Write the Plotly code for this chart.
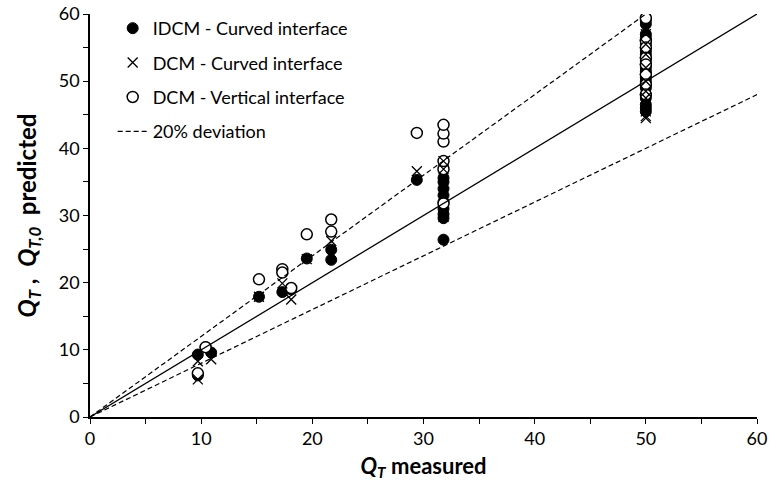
import plotly.graph_objects as go

# Measured vs predicted Q_T for the three interface models
idcm_x = [9.7, 9.7, 10.4, 10.9, 15.2, 17.3, 18.1, 19.5, 21.7, 21.7, 29.4,
          31.8, 31.8, 31.8, 31.8, 31.8, 31.8, 31.8, 31.8, 31.8,
          50, 50, 50, 50, 50, 50, 50, 50, 50, 50, 50, 50, 50, 50, 50, 50,
          50, 50, 50, 50, 50, 50, 50, 50]
idcm_y = [9.3, 6.2, 10.4, 9.6, 17.9, 18.6, 19.0, 23.6, 24.9, 23.4, 35.3,
          26.4, 29.6, 30.2, 31.0, 32.0, 33.0, 34.0, 35.0, 35.6,
          59.0, 58.5, 57.0, 56.5, 56.0, 55.5, 55.0, 54.5, 54.0, 53.5, 53.0,
          52.5, 52.0, 51.5, 51.0, 50.5, 50.0, 49.5, 49.0, 48.0, 47.5, 46.5,
          46.0, 45.5]

dcm_curved_x = [9.7, 9.7, 10.9, 15.2, 17.3, 18.1, 19.5, 21.7, 29.4,
                31.8, 31.8, 31.8, 31.8,
                50, 50, 50, 50, 50, 50, 50, 50, 50, 50, 50]
dcm_curved_y = [5.6, 8.3, 8.6, 17.9, 19.9, 17.5, 23.5, 26.2, 36.6,
                29.8, 30.5, 36.9, 38.1,
                57.0, 55.5, 54.0, 52.0, 50.0, 48.5, 47.5, 46.5, 45.5, 44.8, 44.5]

dcm_vertical_x = [9.7, 10.4, 15.2, 17.3, 17.3, 18.1, 19.5, 21.7, 21.7, 29.4,
                  31.8, 31.8, 31.8, 31.8, 31.8, 31.8,
                  50, 50, 50, 50, 50, 50, 50, 50]
dcm_vertical_y = [6.5, 10.4, 20.5, 22.0, 21.5, 19.2, 27.2, 29.4, 27.6, 42.3,
                  31.8, 36.9, 38.1, 41.0, 42.2, 43.5,
                  59.4, 56.0, 55.0, 53.5, 52.5, 51.0, 49.5, 48.0]

# Reference lines: 1:1 and +/-20 % deviation
line_x = [0, 60]
perfect_factor = 1.0
deviation_factors = [1.2, 0.8]

FONT = "Lato"
BLACK = "#000000"

fig = go.Figure()

fig.add_trace(go.Scatter(
    x=idcm_x, y=idcm_y, mode="markers", name="IDCM - Curved interface",
    legendgroup="a", legendrank=1,
    marker=dict(symbol="circle", size=11, color=BLACK,
                line=dict(color=BLACK, width=1)),
))
fig.add_trace(go.Scatter(
    x=dcm_vertical_x, y=dcm_vertical_y, mode="markers",
    name="DCM - Vertical interface", legendgroup="c", legendrank=3,
    marker=dict(symbol="circle", size=11, color="white",
                line=dict(color=BLACK, width=1.5)),
))

# 1:1 line
fig.add_trace(go.Scatter(
    x=line_x, y=[v * perfect_factor for v in line_x], mode="lines",
    line=dict(color=BLACK, width=1.3), showlegend=False, hoverinfo="skip",
))
# +/-20 % lines
for i, f in enumerate(deviation_factors):
    xs = [0, 60 / f] if f > 1 else line_x
    fig.add_trace(go.Scatter(
        x=xs, y=[v * f for v in xs], mode="lines", name="20% deviation",
        legendgroup="d", legendrank=4, showlegend=(i == 0),
        line=dict(color=BLACK, width=1.2, dash="5px,3px"), hoverinfo="skip",
    ))

fig.add_trace(go.Scatter(
    x=dcm_curved_x, y=dcm_curved_y, mode="markers",
    name="DCM - Curved interface", legendgroup="b", legendrank=2,
    marker=dict(symbol="x-thin", size=10, color=BLACK,
                line=dict(color=BLACK, width=1.3)),
))

axis_common = dict(
    range=[0, 60], dtick=10, tick0=0, automargin=False,
    showline=True, linecolor=BLACK, linewidth=1.5,
    ticks="outside", ticklen=5, tickwidth=1.2, tickcolor=BLACK,
    minor=dict(dtick=5, ticks="outside", ticklen=5, tickwidth=1.2,
               tickcolor=BLACK, showgrid=False),
    showgrid=False, zeroline=False,
    tickfont=dict(family=FONT, size=18, color=BLACK),
    fixedrange=True,
)

fig.update_layout(
    width=769, height=488,
    margin=dict(l=90, r=12, t=14, b=71, autoexpand=False),
    paper_bgcolor="white", plot_bgcolor="white",
    font=dict(family=FONT, color=BLACK),
    xaxis=dict(**axis_common,
               title=dict(text="<b><i>Q<sub>T</sub></i> measured</b>",
                          font=dict(family=FONT, size=22, color=BLACK),
                          standoff=10)),
    yaxis=dict(**axis_common,
               title=dict(text="<b><i>Q<sub>T</sub></i> ,  <i>Q<sub>T,0</sub></i>  predicted</b>",
                          font=dict(family=FONT, size=24, color=BLACK),
                          standoff=15)),
    legend=dict(
        x=0.034, y=1.01, xanchor="left", yanchor="top",
        bgcolor="rgba(0,0,0,0)", borderwidth=0,
        font=dict(family=FONT, size=18, color=BLACK),
        tracegroupgap=8, itemsizing="trace",
    ),
    showlegend=True,
)

fig.write_html("out.html")
